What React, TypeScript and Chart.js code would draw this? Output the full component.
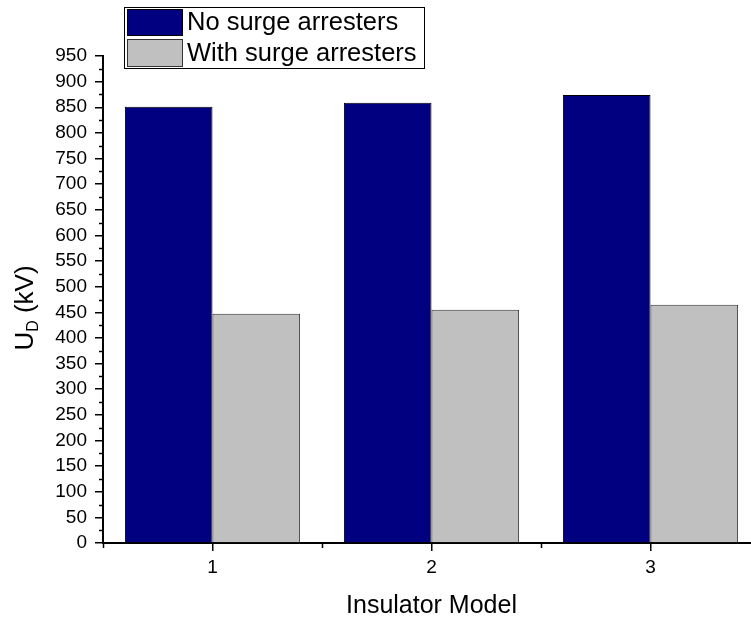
import React, { useEffect, useRef } from "react";
import { Chart, registerables } from "chart.js";

Chart.register(...registerables);

const categories = ["1", "2", "3"];
const noArresters = [851, 859, 874];
const withArresters = [447, 455, 465];
const seriesNames = ["No surge arresters", "With surge arresters"];
const yMin = 0;
const yMax = 950;
const yStep = 50;
const xTitle = "Insulator Model";

const NAVY = "#000080";
const GRAY = "#C0C0C0";
const FONT = "'Liberation Sans', Arial, sans-serif";

const decorPlugin = {
  id: "decor",
  afterDraw(chart: any) {
    const ctx = chart.ctx as CanvasRenderingContext2D;
    const xs = chart.scales.x;
    const ys = chart.scales.y;
    const area = chart.chartArea;
    ctx.save();
    ctx.strokeStyle = "#000";
    ctx.lineWidth = 1.5;
    // minor y ticks
    for (let v = yMin + yStep / 2; v < yMax; v += yStep) {
      const y = Math.round(ys.getPixelForValue(v)) + 0.5;
      ctx.beginPath();
      ctx.moveTo(area.left - 4, y);
      ctx.lineTo(area.left, y);
      ctx.stroke();
    }
    // minor x ticks between categories
    for (let i = -0.5; i < categories.length; i += 1) {
      const x = Math.round(xs.getPixelForValue(i)) + 0.5;
      ctx.beginPath();
      ctx.moveTo(x, area.bottom);
      ctx.lineTo(x, area.bottom + 5);
      ctx.stroke();
    }
    ctx.fillStyle = "#000";
    // x title
    ctx.font = `25px ${FONT}`;
    ctx.textAlign = "center";
    ctx.textBaseline = "middle";
    ctx.fillText(xTitle, (area.left + area.right) / 2, 606);

    // y title: U_D (kV)
    const big = `26px ${FONT}`;
    const small = `16px ${FONT}`;
    ctx.font = big;
    const wU = ctx.measureText("U").width;
    const wRest = ctx.measureText(" (kV)").width;
    ctx.font = small;
    const wD = ctx.measureText("D").width;
    const total = wU + wD + wRest;
    ctx.translate(33, 308);
    ctx.rotate(-Math.PI / 2);
    ctx.textAlign = "left";
    ctx.textBaseline = "alphabetic";
    let cx = -total / 2;
    ctx.font = big;
    ctx.fillText("U", cx, 0);
    cx += wU;
    ctx.font = small;
    ctx.fillText("D", cx, 5);
    cx += wD;
    ctx.font = big;
    ctx.fillText(" (kV)", cx, 0);
    ctx.restore();

    // legend
    ctx.save();
    ctx.lineWidth = 1;
    ctx.strokeStyle = "#000";
    ctx.strokeRect(124.5, 7.5, 300, 61);
    ctx.fillStyle = NAVY;
    ctx.fillRect(127, 9, 56, 27);
    ctx.strokeStyle = "#000";
    ctx.strokeRect(127.5, 9.5, 55, 26);
    ctx.fillStyle = GRAY;
    ctx.fillRect(127, 39, 56, 28);
    ctx.strokeStyle = "#333";
    ctx.strokeRect(127.5, 39.5, 55, 27);
    ctx.fillStyle = "#000";
    ctx.font = `25.5px ${FONT}`;
    ctx.textAlign = "left";
    ctx.textBaseline = "middle";
    ctx.fillText(seriesNames[0], 187, 23);
    ctx.fillText(seriesNames[1], 187, 54);
    ctx.restore();
  },
};

export default function App() {
  const ref = useRef<HTMLCanvasElement | null>(null);
  useEffect(() => {
    if (!ref.current) return;
    const chart = new Chart(ref.current, {
      type: "bar",
      data: {
        labels: categories,
        datasets: [
          {
            label: seriesNames[0],
            data: noArresters,
            backgroundColor: NAVY,
            borderColor: "#000",
            borderWidth: 1,
            categoryPercentage: 0.8,
            barPercentage: 1.0,
          },
          {
            label: seriesNames[1],
            data: withArresters,
            backgroundColor: GRAY,
            borderColor: "#333",
            borderWidth: 1,
            categoryPercentage: 0.8,
            barPercentage: 1.0,
          },
        ],
      },
      options: {
        responsive: false,
        animation: false,
        devicePixelRatio: 1,
        layout: { padding: { top: 56, left: 0, right: 0, bottom: 0 } },
        plugins: {
          legend: { display: false },
          tooltip: { enabled: false },
          title: { display: false },
        },
        scales: {
          x: {
            type: "category",
            offset: true,
            grid: {
              display: true,
              drawOnChartArea: false,
              drawTicks: true,
              tickLength: 8,
              color: "#000",
              lineWidth: 1.5,
              offset: false,
            },
            border: { display: true, color: "#000", width: 2 },
            ticks: {
              color: "#000",
              font: { family: FONT, size: 19 },
              padding: 5,
            },
            afterFit(scale: any) {
              scale.height = 78;
            },
          },
          y: {
            min: yMin,
            max: yMax,
            grid: {
              display: true,
              drawOnChartArea: false,
              drawTicks: true,
              tickLength: 8,
              color: "#000",
              lineWidth: 1.5,
            },
            border: { display: true, color: "#000", width: 2 },
            ticks: {
              stepSize: yStep,
              color: "#000",
              font: { family: FONT, size: 19 },
              padding: 8,
              autoSkip: false,
            },
            afterFit(scale: any) {
              scale.width = 103;
            },
          },
        },
      },
      plugins: [decorPlugin],
    });
    return () => chart.destroy();
  }, []);
  return (
    <div
      style={{
        position: "fixed",
        left: 0,
        top: 0,
        width: 751,
        height: 621,
        overflow: "hidden",
        background: "#fff",
      }}
    >
      <canvas ref={ref} width={760} height={621} style={{ width: 760, height: 621, display: "block" }} />
    </div>
  );
}
